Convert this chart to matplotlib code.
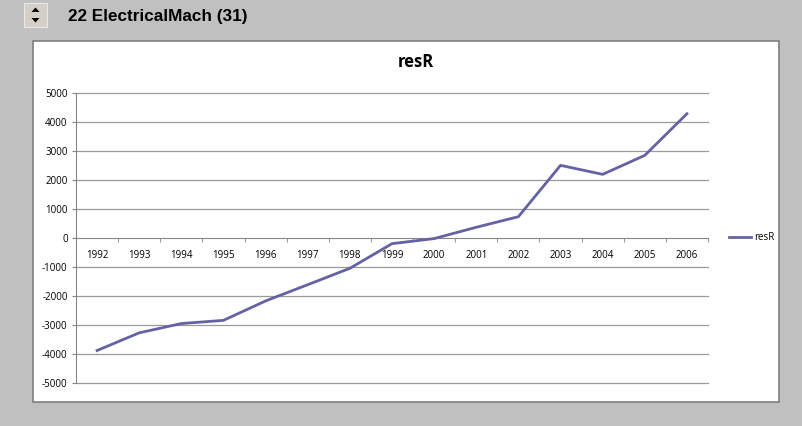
import matplotlib.pyplot as plt
from matplotlib.patches import Rectangle, Polygon

years = [str(y) for y in range(1992, 2007)]
resR = [-3880, -3270, -2950, -2840, -2170, -1610, -1045, -195, -20,
        370, 735, 2505, 2195, 2850, 4285]
yticks = list(range(-5000, 5001, 1000))

W, H = 802, 426
fig = plt.figure(figsize=(W / 100, H / 100), dpi=100)
fig.patch.set_facecolor('#c0c0c0')

def fx(px):
    return px / W

def fy(py):
    return 1 - py / H

# white chart box
fig.patches.append(Rectangle((fx(33), fy(402)), fx(779) - fx(33), fy(41) - fy(402),
                             transform=fig.transFigure, facecolor='white',
                             edgecolor='#7f7f7f', linewidth=1.2, zorder=-2))

# spinner button
fig.patches.append(Rectangle((fx(24), fy(27)), fx(23), fy(3) - fy(27),
                             transform=fig.transFigure, facecolor='#d4d0c8',
                             edgecolor='#e8e8e8', linewidth=0.8, zorder=-1))
fig.patches.append(Polygon([(fx(31.5), fy(12)), (fx(39.5), fy(12)), (fx(35.5), fy(7.5))],
                           closed=True, transform=fig.transFigure,
                           facecolor='black', edgecolor='none', zorder=1))
fig.patches.append(Polygon([(fx(31.5), fy(18)), (fx(39.5), fy(18)), (fx(35.5), fy(22.5))],
                           closed=True, transform=fig.transFigure,
                           facecolor='black', edgecolor='none', zorder=1))
fig.text(fx(68), fy(16), '22 ElectricalMach (31)', fontsize=12.3, fontweight='bold',
         family='Liberation Sans', ha='left', va='center')

ax = fig.add_axes([fx(76), fy(383), fx(708) - fx(76), fy(93) - fy(383)])
ax.set_facecolor('none')
ax.set_zorder(2)

# move the category axis to y=0 first (this resets the ticks)
for s in ['top', 'right']:
    ax.spines[s].set_visible(False)
ax.spines['bottom'].set_position(('data', 0))
ax.spines['bottom'].set_color('#868686')
ax.spines['left'].set_color('#868686')

x = [i + 0.5 for i in range(len(years))]
line, = ax.plot(x, resR, color='#6363a3', linewidth=2, label='resR', zorder=3)

ax.set_xlim(0, len(years))
ax.set_ylim(-5000, 5000)
ax.set_yticks(yticks)
ax.set_yticklabels([str(v) for v in yticks])
for v in yticks:
    if v != 0:
        ax.axhline(v, color='#9a9a9a', linewidth=0.9, clip_on=False, zorder=1)

ax.set_xticks(x)
ax.set_xticklabels(years)
ax.set_xticks(range(len(years) + 1), minor=True)
ax.tick_params(axis='both', labelsize=7, labelfontfamily='Open Sans')
ax.tick_params(axis='x', which='major', length=0, pad=9)
ax.tick_params(axis='x', which='minor', length=3, color='#868686', direction='out')
ax.tick_params(axis='y', length=3, color='#868686', pad=3)

fig.text(fx(416), fy(62), 'resR', fontsize=12, fontweight='bold',
         family='Open Sans', ha='center', va='center')

fig.legend(handles=[line], loc='center left', bbox_to_anchor=(fx(720), fy(238)),
           frameon=False, prop={'family': 'Open Sans', 'size': 7},
           handlelength=2.3, handletextpad=0.3)

fig.savefig('out.png', dpi=100, facecolor=fig.get_facecolor())
